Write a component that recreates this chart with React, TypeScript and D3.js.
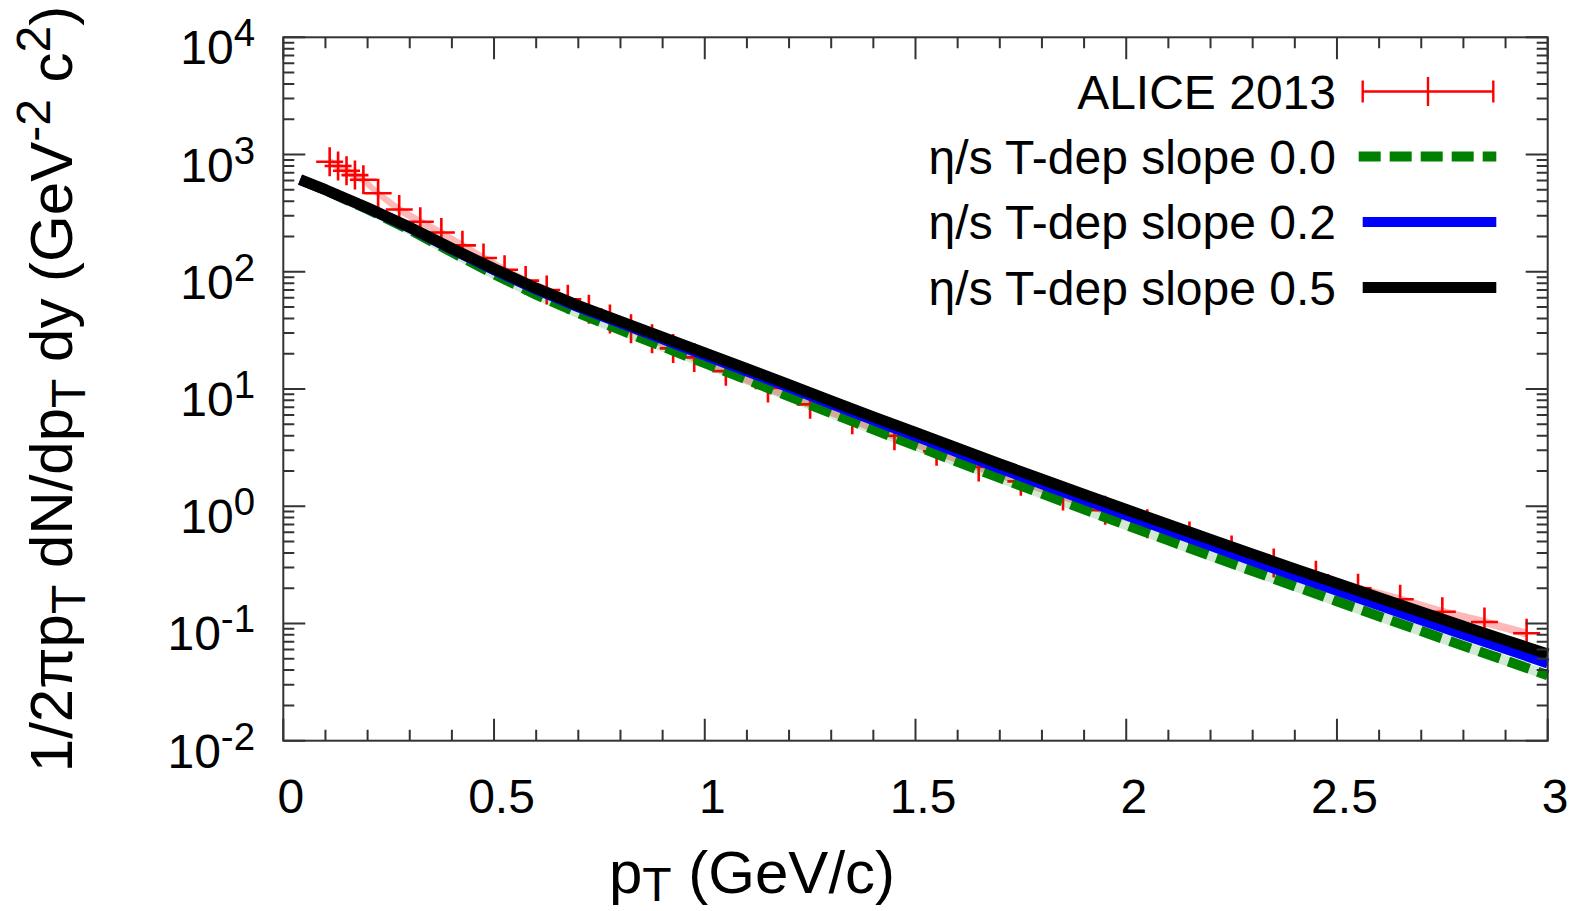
import React from 'react';
import * as d3 from 'd3';

// ALICE 2013 data (pT in GeV/c, invariant yield)
const aliceX = [0.11, 0.13, 0.15, 0.17, 0.19, 0.225, 0.275, 0.325, 0.375, 0.425, 0.475, 0.525, 0.575, 0.625, 0.675, 0.725, 0.775, 0.825, 0.875, 0.925, 0.975, 1.05, 1.15, 1.25, 1.35, 1.45, 1.55, 1.65, 1.75, 1.85, 1.95, 2.05, 2.15, 2.25, 2.35, 2.45, 2.55, 2.65, 2.75, 2.85, 2.95];
const aliceY = [869, 798, 728, 668, 610, 467, 340, 267, 216, 168, 131, 104, 84.1, 70.0, 58.2, 47.9, 39.5, 32.6, 26.8, 22.2, 18.6, 14.2, 10.2, 7.40, 5.47, 3.99, 2.94, 2.16, 1.63, 1.22, 0.923, 0.710, 0.556, 0.423, 0.328, 0.258, 0.200, 0.161, 0.126, 0.103, 0.0824];

// model curves
const modelX = [0.04, 0.1, 0.2, 0.3, 0.4, 0.5, 0.6, 0.7, 0.8, 0.9, 1.0, 1.1, 1.2, 1.3, 1.4, 1.5, 1.6, 1.7, 1.8, 1.9, 2.0, 2.1, 2.2, 2.3, 2.4, 2.5, 2.6, 2.7, 2.8, 2.9, 3.0];
const slope00 = [610, 495, 341, 228, 147, 95.5, 63.8, 44.4, 31.9, 23.0, 16.6, 12.0, 8.65, 6.24, 4.52, 3.29, 2.39, 1.75, 1.28, 0.940, 0.692, 0.511, 0.378, 0.280, 0.208, 0.1545, 0.115, 0.0861, 0.0644, 0.0483, 0.0362];
const slope02 = [610, 498, 347, 236, 155, 103, 70.3, 49.8, 36.3, 26.5, 19.3, 14.1, 10.3, 7.43, 5.40, 3.94, 2.87, 2.10, 1.54, 1.135, 0.838, 0.619, 0.459, 0.341, 0.254, 0.190, 0.142, 0.1067, 0.080, 0.0604, 0.0456];
const slope05 = [610, 501, 351, 240, 158, 106, 72.4, 51.5, 37.8, 27.7, 20.3, 14.9, 10.9, 7.93, 5.79, 4.26, 3.13, 2.30, 1.70, 1.26, 0.938, 0.698, 0.521, 0.390, 0.292, 0.220, 0.1656, 0.1253, 0.0948, 0.0721, 0.0548];

const xTickValues = [0, 0.5, 1, 1.5, 2, 2.5, 3];
const xTickLabels = ['0', '0.5', '1', '1.5', '2', '2.5', '3'];
const yExponents = [-2, -1, 0, 1, 2, 3, 4];

const legendLabels = ['ALICE 2013', 'η/s T-dep slope 0.0', 'η/s T-dep slope 0.2', 'η/s T-dep slope 0.5'];

const FONT = "'Liberation Sans', Arial, Helvetica, sans-serif";

export default function App() {
  const left = 283.3, right = 1547.7, top = 37.3, bottom = 740.7;
  const x = d3.scaleLinear().domain([0, 3]).range([left, right]);
  const y = d3.scaleLog().domain([1e-2, 1e4]).range([bottom, top]);

  const line = d3.line<[number, number]>().x(d => x(d[0])).y(d => y(d[1]));
  const mk = (vals: number[]) => modelX.map((p, i) => [p, vals[i]] as [number, number]);

  const band = d3.area<[number, number]>()
    .x(d => x(d[0]))
    .y0(d => y(d[1] * 0.92))
    .y1(d => y(d[1] * 1.08));
  const aliceData = aliceX.map((p, i) => [p, aliceY[i]] as [number, number]);

  // ticks
  const xMinor: number[] = [];
  for (let i = 0; i <= 30; i++) {
    if (i % 5 !== 0) xMinor.push(i / 10);
  }
  const yMinor: number[] = [];
  for (let e = -2; e < 4; e++) {
    for (let m = 2; m <= 9; m++) yMinor.push(m * Math.pow(10, e));
  }
  const majorLen = 22, minorLen = 11;

  let tickPath = '';
  xTickValues.forEach(v => {
    const px = x(v);
    tickPath += `M${px},${bottom}V${bottom - majorLen}M${px},${top}V${top + majorLen}`;
  });
  xMinor.forEach(v => {
    const px = x(v);
    tickPath += `M${px},${bottom}V${bottom - minorLen}M${px},${top}V${top + minorLen}`;
  });
  yExponents.forEach(e => {
    const py = y(Math.pow(10, e));
    tickPath += `M${left},${py}H${left + majorLen}M${right},${py}H${right - majorLen}`;
  });
  yMinor.forEach(v => {
    const py = y(v);
    tickPath += `M${left},${py}H${left + minorLen}M${right},${py}H${right - minorLen}`;
  });

  const crossPath = aliceData.map(d => {
    const px = x(d[0]), py = y(d[1]);
    return `M${px - 13.5},${py}H${px + 13.5}M${px},${py - 14.5}V${py + 14.5}`;
  }).join('');

  // legend
  const legX0 = 1362.7, legX1 = 1493.3, legTextX = 1336;
  const legRows = [91.5, 156.5, 222, 287.5];

  return (
    <svg width={1585} height={911} style={{ position: 'absolute', left: 0, top: 0, background: '#fff' }} fontFamily={FONT}>
      <rect x={0} y={0} width={1585} height={911} fill="#fff" />
      {/* data band */}
      <path d={band(aliceData) || ''} fill="#ffb8b8" stroke="none" />
      <path d={crossPath} stroke="#ff0000" strokeWidth={2.6} fill="none" />

      {/* model curves */}
      <path d={line(mk(slope00)) || ''} stroke="#008000" strokeOpacity={0.18} strokeWidth={10} fill="none" />
      <path d={line(mk(slope00)) || ''} stroke="#008000" strokeWidth={10} strokeDasharray="22,9" fill="none" strokeLinejoin="round" />
      <path d={line(mk(slope02)) || ''} stroke="#0000ff" strokeWidth={10} fill="none" strokeLinejoin="round" />
      <path d={line(mk(slope05)) || ''} stroke="#000000" strokeWidth={11} fill="none" strokeLinejoin="round" />

      {/* frame and ticks */}
      <path d={tickPath} stroke="#333" strokeWidth={2} fill="none" />
      <rect x={left} y={top} width={right - left} height={bottom - top} fill="none" stroke="#333" strokeWidth={2} />

      {/* x tick labels */}
      {xTickValues.map((v, i) => (
        <text key={'xl' + i} x={x(v) + 7.5} y={813} textAnchor="middle" fontSize={48} fill="#000">{xTickLabels[i]}</text>
      ))}
      {/* y tick labels */}
      {yExponents.map(e => (
        <text key={'yl' + e} x={255} y={y(Math.pow(10, e)) + 27} textAnchor="end" fontSize={48} fill="#000">
          10<tspan fontSize={38.4} dy={-18}>{String(e)}</tspan>
        </text>
      ))}

      {/* axis labels */}
      <text x={752} y={893} textAnchor="middle" fontSize={60} fill="#000">
        p<tspan fontSize={48} dy={8}>T</tspan><tspan fontSize={60} dy={-8}>{' (GeV/c)'}</tspan>
      </text>
      <text transform="translate(72,389) rotate(-90)" textAnchor="middle" fontSize={60} fill="#000">
        1/2πp<tspan fontSize={48} dy={13}>T</tspan>
        <tspan fontSize={60} dy={-13}>{' dN/dp'}</tspan>
        <tspan fontSize={48} dy={13}>T</tspan>
        <tspan fontSize={60} dy={-13}>{' dy (GeV'}</tspan>
        <tspan fontSize={48} dy={-22}>-2</tspan>
        <tspan fontSize={60} dy={22}>{' c'}</tspan>
        <tspan fontSize={48} dy={-22}>2</tspan>
        <tspan fontSize={60} dy={22}>)</tspan>
      </text>

      {/* legend */}
      {legendLabels.map((t, i) => (
        <text key={'lg' + i} x={legTextX} y={legRows[i] + 17} textAnchor="end" fontSize={48} fill="#000">{t}</text>
      ))}
      <path d={`M${legX0},${legRows[0]}H${legX1}M${legX0},${legRows[0] - 11}V${legRows[0] + 11}M${legX1},${legRows[0] - 11}V${legRows[0] + 11}M${(legX0 + legX1) / 2},${legRows[0] - 14.5}V${legRows[0] + 14.5}`}
        stroke="#ff0000" strokeWidth={2.4} fill="none" />
      <line x1={legX0 - 4} x2={legX1 + 3} y1={legRows[1]} y2={legRows[1]} stroke="#008000" strokeWidth={10} strokeDasharray="22,9" />
      <line x1={legX0} x2={legX1 + 3} y1={legRows[2]} y2={legRows[2]} stroke="#0000ff" strokeWidth={10} />
      <line x1={legX0} x2={legX1 + 3} y1={legRows[3]} y2={legRows[3]} stroke="#000000" strokeWidth={11} />
    </svg>
  );
}
